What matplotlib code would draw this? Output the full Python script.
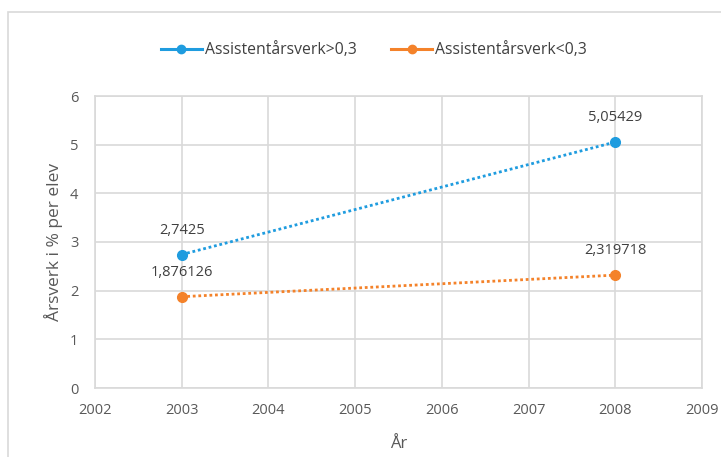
import matplotlib
matplotlib.use("Agg")
import matplotlib.pyplot as plt
from matplotlib.patches import Rectangle

years = [2003, 2008]
over_03 = [2.7425, 5.05429]
under_03 = [1.876126, 2.319718]
series_names = ["Assistentårsverk>0,3", "Assistentårsverk<0,3"]
x_ticks = [2002, 2003, 2004, 2005, 2006, 2007, 2008, 2009]
y_ticks = [0, 1, 2, 3, 4, 5, 6]

blue = "#1F9CDF"
orange = "#F4822A"
grid = "#D9D9D9"
text_col = "#595959"

plt.rcParams["font.family"] = ["Open Sans", "DejaVu Sans"]

fig = plt.figure(figsize=(7.21, 4.57), dpi=100)
W, H = 721, 457

# chart area border
fig.patches.append(Rectangle((8 / W, -0.1), 1.2, (H - 12) / H + 0.1,
                             transform=fig.transFigure, fill=False,
                             edgecolor=grid, linewidth=1.2))

ax = fig.add_axes([95 / W, 1 - 388 / H, (702 - 95) / W, (388 - 96) / H])
ax.set_xlim(2002, 2009)
ax.set_ylim(0, 6)
ax.set_xticks(x_ticks)
ax.set_yticks(y_ticks)
ax.grid(True, color=grid, linewidth=1.2)
ax.set_axisbelow(True)
for s in ax.spines.values():
    s.set_color(grid)
    s.set_linewidth(1.2)
ax.tick_params(length=0, labelsize=10.5, labelcolor=text_col)
ax.tick_params(axis="x", pad=11)
ax.tick_params(axis="y", pad=12)

line_kw = dict(linestyle=(0, (1, 1)), linewidth=2.0, marker="o",
               markersize=7, clip_on=False)
ax.plot(years, over_03, color=blue, label=series_names[0], **line_kw)
ax.plot(years, under_03, color=orange, label=series_names[1], **line_kw)

def fmt(v):
    return repr(v).replace(".", ",")

for xs, ys in ((years, over_03), (years, under_03)):
    for x, y in zip(xs, ys):
        ax.annotate(fmt(y), (x, y), xytext=(0, 12), textcoords="offset points",
                    ha="center", va="bottom", fontsize=10.5, color="#404040")

ax.set_xlabel("År", fontsize=12, color=text_col, labelpad=13)
ax.set_ylabel("Årsverk i % per elev", fontsize=12.5, color=text_col, labelpad=5)

# legend entries with solid line samples
h1 = plt.Line2D([], [], color=blue, linewidth=2.2, marker="o", markersize=6)
h2 = plt.Line2D([], [], color=orange, linewidth=2.2, marker="o", markersize=6)
fig.legend([h1, h2], series_names, loc="center", bbox_to_anchor=(374 / W, 1 - 50 / H),
           ncol=2, frameon=False, handlelength=2.6, handletextpad=0.2,
           columnspacing=2.2, prop={"size": 11.3},
           labelcolor="#404040")

fig.savefig("out.png", dpi=100)
